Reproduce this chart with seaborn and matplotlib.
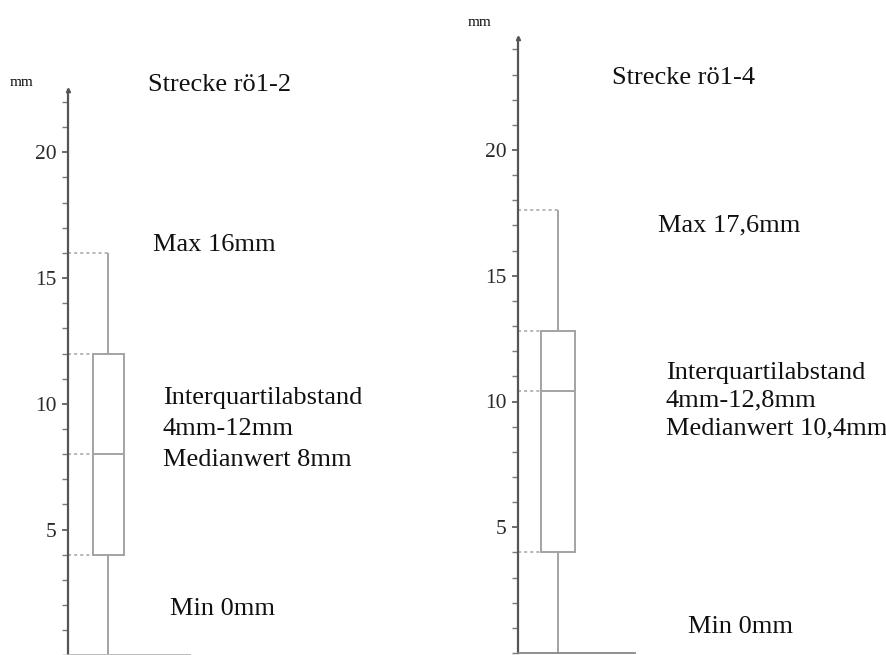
import numpy as np
import matplotlib
matplotlib.use("Agg")
import matplotlib.pyplot as plt
from matplotlib.ticker import MultipleLocator, FixedLocator
import seaborn as sns

# Five-number summaries (mm): min, Q1, median, Q3, max
strecke_12 = [0.0, 4.0, 8.0, 12.0, 16.0]
strecke_14 = [0.0, 4.0, 10.4, 12.8, 17.6]

titles = ["Strecke rö1-2", "Strecke rö1-4"]
max_labels = ["Max 16mm", "Max 17,6mm"]
iqr_labels = [["Interquartilabstand", "4mm-12mm", "Medianwert 8mm"],
              ["Interquartilabstand", "4mm-12,8mm", "Medianwert 10,4mm"]]
min_labels = ["Min 0mm", "Min 0mm"]
major_ticks = [5, 10, 15, 20]
unit_label = "mm"

sns.set_style("white")
plt.rcParams["font.family"] = ["Liberation Serif", "DejaVu Serif"]

W, H = 887, 655
fig = plt.figure(figsize=(W / 100, H / 100), dpi=100)
fig.patch.set_facecolor("white")

PX_PER_MM = 25.15
BOX_W = 0.8
GRAY = "#a3a3a3"
AXIS = "#555555"


def panel(values, x0, x1, y_top, y_zero, box_center, box_px, bottom_color):
    ax = fig.add_axes([x0 / W, 1 - y_zero / H, (x1 - x0) / W, (y_zero - y_top) / H])
    ax.set_facecolor("white")
    sns.boxplot(y=values, ax=ax, width=BOX_W, whis=(0, 100), showcaps=False,
                color="white", linecolor=GRAY, linewidth=1.4, fliersize=0)
    unit = box_px / BOX_W
    left = -(box_center - x0) / unit
    ax.set_xlim(left, left + (x1 - x0) / unit)
    ax.set_ylim(0, (y_zero - y_top) / PX_PER_MM)

    # dotted guides from the axis to the box / whisker
    vmin, q1, med, q3, vmax = values
    ax.hlines([q1, med, q3], left, -BOX_W / 2, colors=GRAY, linestyles=(0, (2, 2)), lw=1.1)
    ax.hlines([vmax], left, 0, colors=GRAY, linestyles=(0, (2, 2)), lw=1.1)

    ax.set_xticks([])
    ax.set_xlabel("")
    ax.set_ylabel("")
    ax.yaxis.set_major_locator(FixedLocator(major_ticks))
    ax.yaxis.set_minor_locator(MultipleLocator(1))
    ax.tick_params(axis="y", which="major", left=True, direction="out", length=4.5,
                   width=1.2, color=AXIS, labelsize=15.5, labelcolor="#2a2a2a", pad=4)
    ax.tick_params(axis="y", which="minor", left=True, direction="out", length=4.5,
                   width=1.0, color="#7a7a7a")
    for side in ("top", "right"):
        ax.spines[side].set_visible(False)
    ax.spines["left"].set_color(AXIS)
    ax.spines["left"].set_linewidth(1.6)
    ax.spines["bottom"].set_color(bottom_color)
    ax.spines["bottom"].set_linewidth(1.3)
    ax.plot([left], [ax.get_ylim()[1]], marker="^", ms=3, color=AXIS, clip_on=False)
    return ax


panel(strecke_12, 68, 190, 90, 655.3, 108.5, 31, "#b5b5b5")
panel(strecke_14, 518, 635, 38, 653, 558, 34, "#888888")


def ftext(x, y, s, size=19):
    fig.text(x / W, 1 - y / H, s, fontsize=size, ha="left", va="center",
             color="#111111")


ftext(10, 83, unit_label, size=11)
ftext(468, 22, unit_label, size=11)

ftext(148, 85, titles[0])
ftext(153, 245, max_labels[0])
for i, line in enumerate(iqr_labels[0]):
    ftext(163, 398 + 31 * i, line)
ftext(170, 609, min_labels[0])

ftext(612, 78, titles[1])
ftext(658, 225, max_labels[1])
for i, line in enumerate(iqr_labels[1]):
    ftext(666, 373 + 27.5 * i, line)
ftext(688, 627, min_labels[1])

fig.savefig("out.png", dpi=100, facecolor="white")
